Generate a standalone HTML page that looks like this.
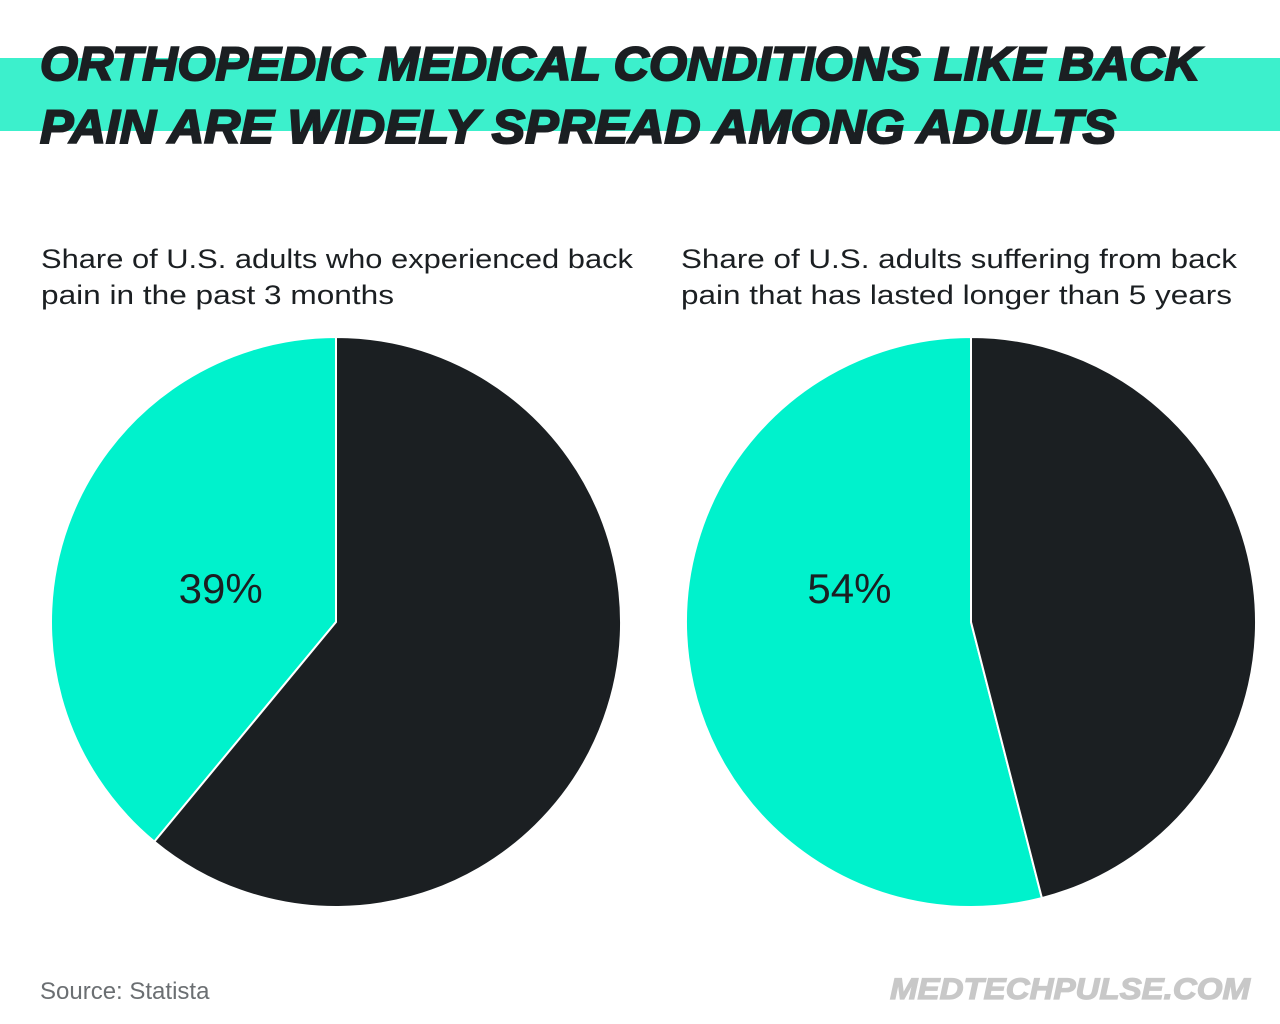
<!DOCTYPE html>
<html><head><meta charset="utf-8"><style>
html,body{margin:0;padding:0;background:#fff;}
svg{display:block;}
text{font-family:"Liberation Sans",sans-serif;}
</style></head><body>
<svg id="chart" width="1280" height="1024" viewBox="0 0 1280 1024">
<rect x="0" y="58" width="1280" height="73" fill="#3cf0cc"/>
<text x="40" y="80" font-size="47" font-weight="bold" font-style="italic" fill="#1b1f22" stroke="#1b1f22" stroke-width="2" textLength="1160" lengthAdjust="spacingAndGlyphs">ORTHOPEDIC MEDICAL CONDITIONS LIKE BACK</text>
<text x="40" y="143" font-size="47" font-weight="bold" font-style="italic" fill="#1b1f22" stroke="#1b1f22" stroke-width="2" textLength="1076" lengthAdjust="spacingAndGlyphs">PAIN ARE WIDELY SPREAD AMONG ADULTS</text>
<text x="41" y="268" font-size="27" fill="#1b1f22" textLength="592" lengthAdjust="spacingAndGlyphs">Share of U.S. adults who experienced back</text>
<text x="41" y="304" font-size="27" fill="#1b1f22" textLength="353" lengthAdjust="spacingAndGlyphs">pain in the past 3 months</text>
<text x="681" y="268" font-size="27" fill="#1b1f22" textLength="556" lengthAdjust="spacingAndGlyphs">Share of U.S. adults suffering from back</text>
<text x="681" y="304" font-size="27" fill="#1b1f22" textLength="551" lengthAdjust="spacingAndGlyphs">pain that has lasted longer than 5 years</text>
<g id="pies"></g>
<text x="40" y="999" font-size="24" fill="#6b6f72">Source: Statista</text>
<text x="1250" y="999" font-size="30" font-weight="bold" font-style="italic" fill="#c8c8c8" stroke="#c8c8c8" stroke-width="1.2" text-anchor="end" textLength="360" lengthAdjust="spacingAndGlyphs">MEDTECHPULSE.COM</text>
</svg>
<script>
const pieNames = ['back-pain-3-months', 'back-pain-over-5-years'];
const pieValues = [39, 54];
const pieLabels = ['39%', '54%'];
const TEAL = '#00f2cc', DARK = '#1b1f22';
const centers = [[336, 622], [971, 622]];
const R = 285;
const g = document.getElementById('pies');
const NS = 'http://www.w3.org/2000/svg';
function pt(cx, cy, frac) {
  const a = -Math.PI / 2 - frac * 2 * Math.PI;
  return [cx + R * Math.cos(a), cy + R * Math.sin(a)];
}
pieValues.forEach((v, i) => {
  const [cx, cy] = centers[i];
  const f = v / 100;
  const top = [cx, cy - R];
  const e = pt(cx, cy, f);
  const teal = document.createElementNS(NS, 'path');
  teal.setAttribute('d', `M${cx},${cy} L${top[0]},${top[1]} A${R},${R} 0 ${f > 0.5 ? 1 : 0} 0 ${e[0]},${e[1]} Z`);
  teal.setAttribute('fill', TEAL);
  teal.setAttribute('stroke', '#fff');
  teal.setAttribute('stroke-width', '2');
  
  
  g.appendChild(teal);
  const dark = document.createElementNS(NS, 'path');
  dark.setAttribute('d', `M${cx},${cy} L${top[0]},${top[1]} A${R},${R} 0 ${1 - f > 0.5 ? 1 : 0} 1 ${e[0]},${e[1]} Z`);
  dark.setAttribute('fill', DARK);
  dark.setAttribute('stroke', '#fff');
  dark.setAttribute('stroke-width', '2');
  
  
  g.appendChild(dark);
  const mid = pt(cx, cy, f / 2);
  const t = document.createElementNS(NS, 'text');
  t.setAttribute('x', cx + (mid[0] - cx) * 0.43);
  t.setAttribute('y', 603);
  t.setAttribute('text-anchor', 'middle');
  t.setAttribute('font-size', '42');
  t.setAttribute('fill', DARK);
  t.textContent = pieLabels[i];
  
  
  g.appendChild(t);
});
</script>
</body></html>
